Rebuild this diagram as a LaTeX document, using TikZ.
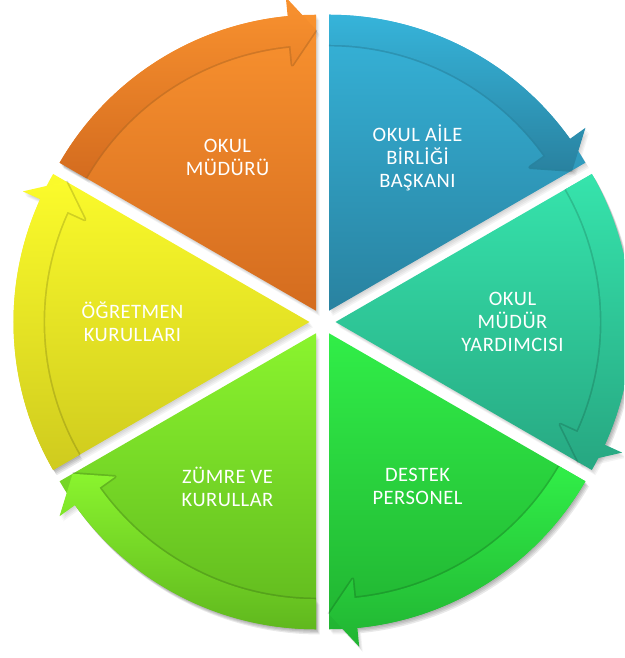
\documentclass[tikz,border=0pt]{standalone}
\usepackage{fontspec}
\setmainfont{Carlito}[LetterSpace=2.5]
\definecolor{orT}{HTML}{F9922F}
\definecolor{orB}{HTML}{D46C1F}
\definecolor{blT}{HTML}{36B4DA}
\definecolor{blB}{HTML}{2982A0}
\definecolor{teT}{HTML}{36E4AC}
\definecolor{teB}{HTML}{27A882}
\definecolor{grT}{HTML}{31EE48}
\definecolor{grB}{HTML}{21B432}
\definecolor{liT}{HTML}{8AF42E}
\definecolor{liB}{HTML}{60B81E}
\definecolor{yeT}{HTML}{FBFB2B}
\definecolor{yeB}{HTML}{CFCB1E}
\tikzset{
  lbl/.style={text=white, font=\fontsize{20.5}{23}\selectfont, align=center, inner sep=0pt},
  softshadow/.style={fill=black, opacity=0.045},
  bandedge/.style={draw=black, opacity=0.15, line width=3.4pt, line join=round},
}
% wedge and arrow outlines, #1 = clockwise end angle
\newcommand{\wedgepath}[1]{(0,0) -- (\segA:296pt) arc[start angle=\segA, end angle=#1, radius=296pt] -- cycle}
\newcommand{\arrowpath}[1]{(\segA:296pt) arc[start angle=\segA, end angle=\segB, radius=296pt] -- (\segB:315pt) -- (#1:281pt) -- (\segB:247pt) -- (\segB:266pt) arc[start angle=\segB, end angle=\segA, radius=266pt] -- cycle}
\newcommand{\setsegangles}[1]{%
  \pgfmathsetmacro{\segA}{#1+60}%
  \pgfmathsetmacro{\segB}{#1+5.5}%
  \pgfmathsetmacro{\segM}{#1+30}}
\newcommand{\segshadow}[1]{%
  \setsegangles{#1}%
  \begin{scope}[shift={(\segM:13pt)}]
    \foreach \s in {1,...,4}{
      \fill[softshadow, shift={(0.9pt*\s,-1.3pt*\s)}] \wedgepath{#1};
      \fill[softshadow, shift={(0.9pt*\s,-1.3pt*\s)}] \arrowpath{#1};
    }
  \end{scope}}
\newcommand{\cycseg}[5]{%
  \setsegangles{#1}%
  \begin{scope}[shift={(\segM:13pt)}]
    \shade[top color=#2, bottom color=#3] \wedgepath{#1};
    \draw[bandedge] (\segA:266pt) arc[start angle=\segA, end angle=\segB, radius=266pt] -- (\segB:247pt) -- (#1:281pt);
    \shade[top color=#2, bottom color=#3] \arrowpath{#1};
  \end{scope}
  \node[lbl] (#4) at (\segM:190pt) {#5};}
\begin{document}
\begin{tikzpicture}[x=1pt,y=1pt]
  \useasboundingbox (-322.5pt,-336pt) rectangle (301.5pt,322pt);
  \clip (-322.5pt,-336pt) rectangle (301.5pt,322pt);
  \foreach \a in {90,30,-30,-90,-150,-210}{\segshadow{\a}}
  \cycseg{90}{orT}{orB}{sOrange}{OKUL\\MÜDÜRÜ}
  \cycseg{30}{blT}{blB}{sBlue}{OKUL AİLE\\BİRLİĞİ\\BAŞKANI}
  \cycseg{-30}{teT}{teB}{sTeal}{OKUL\\MÜDÜR\\YARDIMCISI}
  \cycseg{-90}{grT}{grB}{sGreen}{DESTEK\\PERSONEL}
  \cycseg{-150}{liT}{liB}{sLime}{ZÜMRE VE\\KURULLAR}
  \cycseg{-210}{yeT}{yeB}{sYellow}{ÖĞRETMEN\\KURULLARI}
\end{tikzpicture}
\end{document}
